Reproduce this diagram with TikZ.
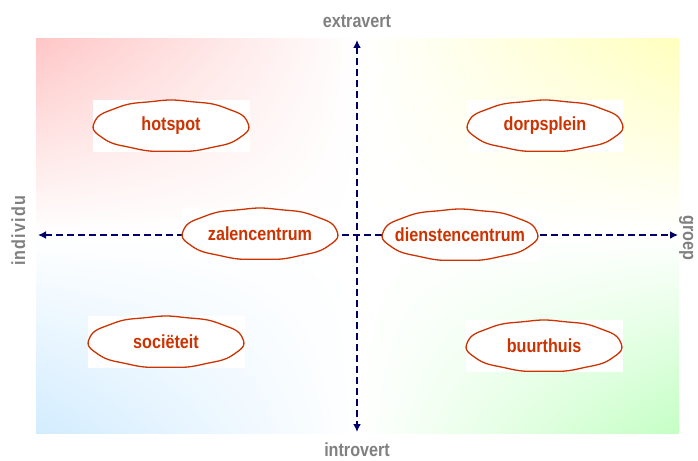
\documentclass[tikz,border=0pt]{standalone}
\usepackage{fontspec}
\setmainfont{Liberation Sans}[FakeStretch=0.85]
\usetikzlibrary{math}
\usetikzlibrary{shadings}
\usetikzlibrary{arrows.meta}
\definecolor{spotred}{RGB}{204,51,0}
\definecolor{axisblue}{RGB}{0,0,102}
\definecolor{labelgrey}{RGB}{128,128,128}
\definecolor{tlpink}{RGB}{255,198,198}
\definecolor{tryellow}{RGB}{255,255,190}
\definecolor{blblue}{RGB}{210,236,255}
\definecolor{brgreen}{RGB}{196,255,196}

\begin{document}
\begin{tikzpicture}[x=1pt,y=-1pt,
	axis/.style={axisblue, line width=2.2pt, dash pattern=on 7pt off 4pt,
		{Latex[length=8pt,width=8pt]}-{Latex[length=8pt,width=8pt]}},
	spot/.style={fill=white, minimum width=157pt, minimum height=52pt, inner sep=0pt,
		text=spotred, font=\fontsize{19}{21}\selectfont\bfseries},
	rim/.style={draw=spotred, line width=1.3pt},
	pole/.style={text=labelgrey, font=\fontsize{19}{21}\selectfont\bfseries, inner sep=0pt}]
	\tikzmath{\xlow=38; \xup=678; \ylow=432; \yup=40; \ox=357; \oy=235;
	\bgl=36; \bgr=679; \bgt=39; \bgb=433;}
	\useasboundingbox (0,0) rectangle (698,460);

	% quadrants
	\shade[upper left=tlpink, upper right=white, lower left=white, lower right=white] (\bgl,\bgt) rectangle (\ox,\oy);
	\shade[upper left=white, upper right=tryellow, lower left=white, lower right=white] (\ox,\bgt) rectangle (\bgr,\oy);
	\shade[upper left=white, upper right=white, lower left=blblue, lower right=white] (\bgl,\oy) rectangle (\ox,\bgb);
	\shade[upper left=white, upper right=white, lower left=white, lower right=brgreen] (\ox,\oy) rectangle (\bgr,\bgb);

	% axes
	\coordinate (left) at (\xlow,\oy);
	\coordinate (right) at (\xup,\oy);
	\coordinate (top) at (\ox,\yup);
	\coordinate (bottom) at (\ox,\ylow);
	\draw[axis] (left) -- (right);
	\draw[axis] (top) -- (bottom);

	\foreach \name/\txt/\cx/\cy in {hotspot/hotspot/171/126, dorpsplein/dorpsplein/545/126,
		zalen/zalencentrum/260/234, diensten/dienstencentrum/460/235,
		societeit/sociëteit/166/342, buurthuis/buurthuis/544/346}{
		\node[spot] (\name) at (\cx,\cy) {\txt};
		\draw[rim, shift={(\name.center)}] plot[smooth cycle, domain=0:357, samples=120]
			({(77.8+0.4*sin(11*\x))*cos(\x)}, {(25.6+0.4*sin(11*\x))*sin(\x)});
	}

	\node[pole, anchor=base] (extra) at (\ox,28) {extravert};
	\node[pole, anchor=base] (intro) at (\ox,456) {introvert};
	\node[pole, anchor=base, rotate=90] (indiv) at (25,231) {\addfontfeature{LetterSpace=6}individu};
	\node[pole, anchor=base, rotate=-90] (groep) at (683,238) {groep};
\end{tikzpicture}
\end{document}
